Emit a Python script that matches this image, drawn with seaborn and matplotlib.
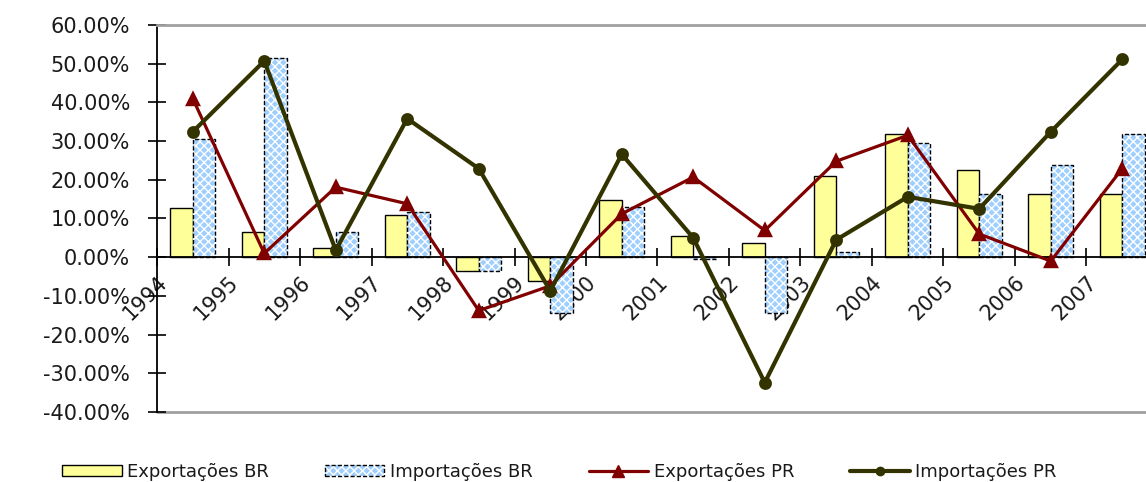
import numpy as np
import pandas as pd
import matplotlib
matplotlib.use("Agg")
import matplotlib.pyplot as plt
import seaborn as sns
from matplotlib.patches import Patch, Rectangle
from matplotlib.lines import Line2D
from matplotlib.ticker import FuncFormatter, MultipleLocator

# Annual variation (%) of exports and imports, Brazil (BR) and Paraná (PR)
years = ["1994", "1995", "1996", "1997", "1998", "1999", "2000",
         "2001", "2002", "2003", "2004", "2005", "2006", "2007"]
export_br = [12.8, 6.5, 2.4, 10.8, -3.6, -6.2, 14.8, 5.6, 3.6, 21.1, 31.9, 22.6, 16.4, 16.4]
import_br = [30.6, 51.4, 6.6, 11.8, -3.5, -14.3, 12.9, -0.5, -14.5, 1.3, 29.5, 16.4, 23.7, 31.9]
export_pr = [41.0, 1.0, 18.1, 13.8, -13.8, -7.4, 11.2, 20.7, 6.9, 24.8, 31.5, 6.0, -1.0, 22.9]
import_pr = [32.4, 50.7, 1.8, 35.8, 22.9, -8.7, 26.6, 5.0, -32.4, 4.5, 15.6, 12.5, 32.4, 51.1]
series_names = ["Exportações BR", "Importações BR", "Exportações PR", "Importações PR"]

YELLOW = "#FFFF99"
BLUE = "#9FCFFF"
RED = "#800000"
OLIVE = "#333300"

sns.set_theme(style="white")
plt.rcParams["font.family"] = ["DejaVu Sans"]
plt.rcParams["hatch.linewidth"] = 1.0

fig = plt.figure(figsize=(11.46, 4.82), dpi=100)
ax = fig.add_axes([157 / 1146, 70 / 482, 1001 / 1146, 387 / 482])

bars = pd.DataFrame({
    "ano": years * 2,
    "serie": [series_names[0]] * len(years) + [series_names[1]] * len(years),
    "valor": export_br + import_br,
})
sns.barplot(data=bars, x="ano", y="valor", hue="serie", order=years,
            hue_order=series_names[:2], palette=[YELLOW, BLUE], saturation=1,
            width=0.63, gap=0, errorbar=None, edgecolor="black",
            linewidth=1.0, legend=False, ax=ax, zorder=1)

# dotted-pattern fill for the import bars, with a dashed outline on top
for p in ax.containers[1]:
    p.set_hatch("xxxx")
    p.set_edgecolor("white")
    p.set_linewidth(0)
    ax.add_patch(Rectangle((p.get_x(), p.get_y()), p.get_width(), p.get_height(),
                           fill=False, edgecolor="black", linewidth=1.0,
                           linestyle=(0, (3, 1.5)), zorder=1.1))

sns.pointplot(x=years, y=export_pr, color=RED, markers="^", linestyles="-",
              markersize=9, linewidth=2.3, errorbar=None, ax=ax, zorder=3)
sns.pointplot(x=years, y=import_pr, color=OLIVE, markers="o", linestyles="-",
              markersize=7, linewidth=3.0, errorbar=None, ax=ax, zorder=4)

# spines first: moving a spine resets the tick objects
ax.spines["left"].set_color("black")
ax.spines["left"].set_linewidth(1.3)
ax.spines["bottom"].set_position(("data", 0))
ax.spines["bottom"].set_color("black")
ax.spines["bottom"].set_linewidth(1.3)
ax.spines["top"].set_color("#a0a0a0")
ax.spines["top"].set_linewidth(2)
ax.spines["right"].set_visible(False)
ax.axhline(-40, color="#a0a0a0", linewidth=2, clip_on=False, zorder=0.5)

ax.set_xlim(-0.5, len(years) - 0.5)
ax.set_ylim(-40, 60)
ax.yaxis.set_major_locator(MultipleLocator(10))
ax.yaxis.set_major_formatter(FuncFormatter(lambda v, _: f"{v:.2f}%"))
ax.set_xticks(np.arange(len(years) + 1) - 0.5)
ax.set_xticklabels(years + [""])
ax.set_xlabel("")
ax.set_ylabel("")
ax.grid(False)

ax.tick_params(axis="both", direction="inout", length=13, width=1.2,
               color="black", labelsize=15, labelcolor="#1a1a1a",
               bottom=True, left=True)
ax.tick_params(axis="y", pad=13)
ax.tick_params(axis="x", pad=4, labelrotation=45)
for lab in ax.get_xticklabels():
    lab.set_ha("right")
    lab.set_va("top")
    lab.set_rotation_mode("anchor")

handles = [
    Patch(facecolor=YELLOW, edgecolor="black", linewidth=1.0),
    (Patch(facecolor=BLUE, edgecolor="white", hatch="xxxx", linewidth=0),
     Patch(fill=False, edgecolor="black", linewidth=1.0, linestyle=(0, (3, 1.5)))),
    Line2D([], [], color=RED, marker="^", markersize=8, linewidth=2.3),
    Line2D([], [], color=OLIVE, marker="o", markersize=6, linewidth=3.0),
]
fig.legend(handles, series_names, loc="center", bbox_to_anchor=(0.488, 0.021),
           ncol=4, frameon=False, fontsize=13, handlelength=3.3,
           handleheight=0.6, columnspacing=3.1, handletextpad=0.3,
           labelcolor="#1a1a1a")

fig.savefig("out.png", dpi=100)
